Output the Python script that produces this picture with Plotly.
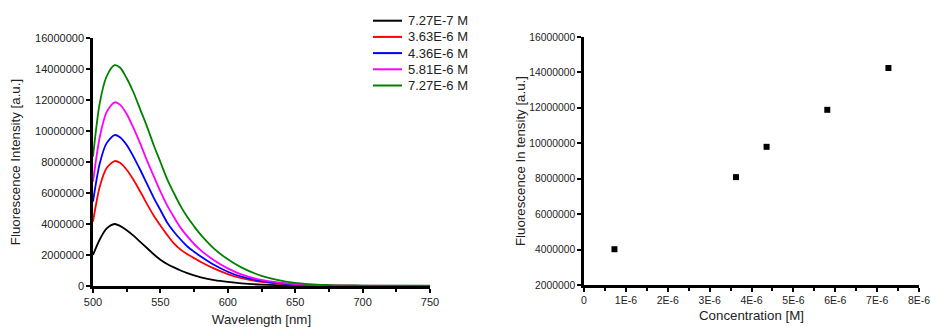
import plotly.graph_objects as go

# ---------------- data ----------------
wavelength = [500, 505, 510, 516, 520, 525, 530, 535, 540, 545, 550, 555, 560,
              565, 570, 575, 580, 590, 600, 610, 625, 650, 675, 700, 750]

i_727e7 = [2.0, 3.0, 3.7, 4.0, 3.88, 3.6, 3.25, 2.85, 2.45, 2.05, 1.7, 1.42, 1.2,
           1.0, 0.83, 0.68, 0.56, 0.38, 0.26, 0.17, 0.09, 0.03, 0.01, 0.005, 0.005]
i_363e6 = [4.15, 6.4, 7.6, 8.06, 7.95, 7.5, 6.85, 6.1, 5.3, 4.55, 3.9, 3.3, 2.75,
           2.35, 2.05, 1.8, 1.55, 1.12, 0.77, 0.5, 0.26, 0.08, 0.03, 0.01, 0.01]
i_436e6 = [5.44, 7.9, 9.2, 9.74, 9.6, 9.1, 8.35, 7.5, 6.6, 5.7, 4.9, 4.1, 3.5,
           3.0, 2.55, 2.21, 1.9, 1.35, 0.92, 0.6, 0.32, 0.1, 0.03, 0.01, 0.01]
i_581e6 = [6.73, 9.6, 11.2, 11.85, 11.7, 11.1, 10.2, 9.2, 8.1, 7.1, 6.1, 5.2, 4.45,
           3.75, 3.2, 2.71, 2.3, 1.65, 1.14, 0.75, 0.39, 0.12, 0.04, 0.015, 0.01]
i_727e6 = [8.34, 11.8, 13.5, 14.25, 14.1, 13.4, 12.5, 11.4, 10.3, 9.1, 8.0, 6.9, 6.0,
           5.15, 4.45, 3.85, 3.3, 2.4, 1.72, 1.2, 0.66, 0.2, 0.06, 0.03, 0.02]

series_names = ["7.27E-7 M", "3.63E-6 M", "4.36E-6 M", "5.81E-6 M", "7.27E-6 M"]
series_values = [i_727e7, i_363e6, i_436e6, i_581e6, i_727e6]  # in millions
series_colors = ["#000000", "#FF0000", "#0000FF", "#FF00FF", "#008000"]

concentration = [7.27e-7, 3.63e-6, 4.36e-6, 5.81e-6, 7.27e-6]
peak_intensity = [4.02e6, 8.09e6, 9.80e6, 11.89e6, 14.25e6]

y_ticks_left = [0, 2000000, 4000000, 6000000, 8000000, 10000000, 12000000, 14000000, 16000000]
y_ticks_right = [2000000, 4000000, 6000000, 8000000, 10000000, 12000000, 14000000, 16000000]
x_ticks_right = [0, 1e-6, 2e-6, 3e-6, 4e-6, 5e-6, 6e-6, 7e-6, 8e-6]
x_ticktext_right = ["0", "1E-6", "2E-6", "3E-6", "4E-6", "5E-6", "6E-6", "7E-6", "8E-6"]

# ---------------- figure ----------------
W, H = 931, 327
FONT = "Liberation Sans, Arial, sans-serif"
TXT = "#222222"
fig = go.Figure()

for name, vals, col in zip(series_names, series_values, series_colors):
    fig.add_trace(go.Scatter(
        x=wavelength, y=[v * 1e6 for v in vals], name=name, mode="lines",
        showlegend=False,
        line=dict(color=col, width=1.8, shape="spline", smoothing=0.8),
        xaxis="x", yaxis="y"))

fig.add_trace(go.Scatter(
    x=concentration, y=peak_intensity, mode="markers", showlegend=False,
    marker=dict(symbol="square", size=6, color="#000000"),
    xaxis="x2", yaxis="y2"))

def axis_style(tick_size):
    return dict(showgrid=False, zeroline=False, showline=True, linecolor="#000000",
                linewidth=2.5, ticks="outside", ticklen=4, tickwidth=2, automargin=False,
                tickcolor="#000000", tickfont=dict(family=FONT, size=tick_size, color=TXT),
                title_font=dict(family=FONT, size=13.3, color=TXT))

# legend drawn as line samples + text labels (top right of the left panel)
LEG_X0, LEG_X1, LEG_TX, LEG_Y0, LEG_DY = 373, 402, 406, 20.7, 16.2
shapes, annotations = [], []
for k, (name, col) in enumerate(zip(series_names, series_colors)):
    yy = 1 - (LEG_Y0 + k * LEG_DY) / H
    shapes.append(dict(type="line", xref="paper", yref="paper",
                       x0=LEG_X0 / W, x1=LEG_X1 / W, y0=yy, y1=yy,
                       line=dict(color=col, width=2)))
    annotations.append(dict(text=name, xref="paper", yref="paper", x=LEG_TX / W, y=yy,
                            xanchor="left", yanchor="middle", showarrow=False,
                            font=dict(family=FONT, size=13, color=TXT)))

fig.update_layout(
    width=W, height=H,
    margin=dict(l=0, r=0, t=0, b=0, autoexpand=False),
    paper_bgcolor="white", plot_bgcolor="white",
    font=dict(family=FONT, color=TXT),
    showlegend=False,
    shapes=shapes, annotations=annotations,
    xaxis=dict(domain=[93 / W, 430 / W], anchor="y", range=[500, 750],
               tickvals=[500, 550, 600, 650, 700, 750],
               minor=dict(dtick=25, ticks="outside", ticklen=3, tickwidth=2, tickcolor="#000000"),
               title=dict(text="Wavelength [nm]", standoff=15), **axis_style(11)),
    yaxis=dict(domain=[1 - 286 / H, 1 - 38 / H], anchor="x", range=[0, 16000000],
               tickvals=y_ticks_left, tickformat="d",
               title=dict(text="Fluorescence Intensity [a.u.]", standoff=12), **axis_style(11)),
    xaxis2=dict(domain=[584 / W, 919 / W], anchor="y2", range=[0, 8e-6],
                tickvals=x_ticks_right, ticktext=x_ticktext_right,
                minor=dict(tickvals=[0.5e-6 + k * 1e-6 for k in range(8)], ticks="outside",
                           ticklen=3, tickwidth=2, tickcolor="#000000"),
                title=dict(text="Concentration [M]", standoff=6), **axis_style(10.5)),
    yaxis2=dict(domain=[1 - 285 / H, 1 - 37 / H], anchor="x2",
                range=[2000000, 16000000],
                tickvals=y_ticks_right, tickformat="d",
                title=dict(text="Fluorescence In tensity [a.u.]", standoff=1), **axis_style(10.3)),
)

fig.write_html("out.html")
